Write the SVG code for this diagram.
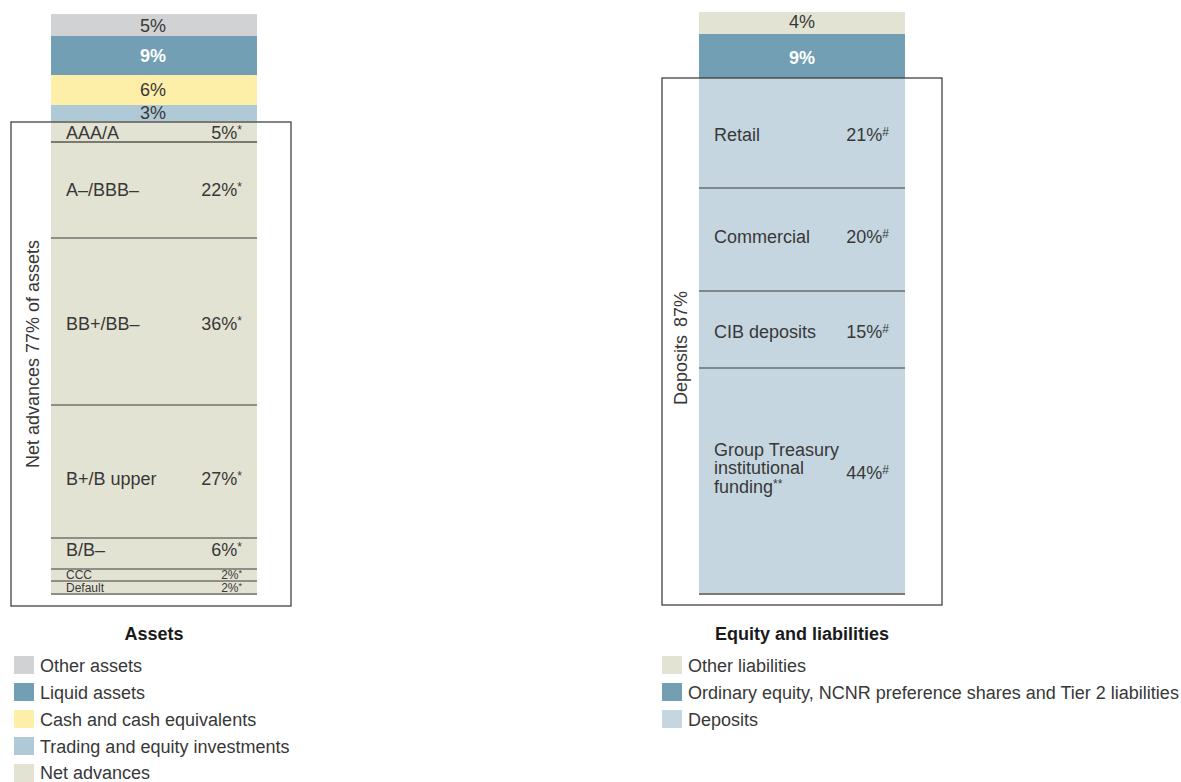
<svg xmlns="http://www.w3.org/2000/svg" width="1181" height="782" viewBox="0 0 1181 782">
<style>
text{font-family:"Liberation Sans",Arial,sans-serif;fill:#383838;font-size:18px}
.c{text-anchor:middle}
.r{text-anchor:end}
.w{fill:#ffffff;font-weight:bold}
.b{font-weight:bold;fill:#1a1a1a}
.s{font-size:12px}
.sep{stroke:#3a3a3a;stroke-width:1}
.sep2{stroke:#7a7a70;stroke-width:2}
.frame{fill:none;stroke:#333;stroke-width:1.2}
.sup{font-size:12px}
</style>
<rect width="1181" height="782" fill="#fff"/>
<g id="assets-bar">
<rect x="51" y="14" width="206" height="22" fill="#d1d2d4"/>
<rect x="51" y="36" width="206" height="39" fill="#729fb4"/>
<rect x="51" y="75" width="206" height="30" fill="#fdeea8"/>
<rect x="51" y="105" width="206" height="16" fill="#b0c9d6"/>
<rect x="51" y="121" width="206" height="474" fill="#e3e3d3"/>
<text class="c" x="153" y="32">5%</text>
<text class="c w" x="153" y="62">9%</text>
<text class="c" x="153" y="96">6%</text>
<text class="c" x="153" y="119">3%</text>
<line class="sep2" x1="51" y1="142" x2="257" y2="142"/>
<line class="sep" x1="51" y1="238" x2="257" y2="238"/>
<line class="sep" x1="51" y1="405" x2="257" y2="405"/>
<line class="sep" x1="51" y1="538" x2="257" y2="538"/>
<line class="sep" x1="51" y1="569" x2="257" y2="569"/>
<line class="sep" x1="51" y1="581" x2="257" y2="581"/>
<line class="sep" x1="51" y1="594" x2="257" y2="594"/>
<text x="66" y="139">AAA/A</text><text class="r" x="242" y="139">5%<tspan class="sup" dy="-5">*</tspan></text>
<text x="66" y="196">A–/BBB–</text><text class="r" x="242" y="196">22%<tspan class="sup" dy="-5">*</tspan></text>
<text x="66" y="330">BB+/BB–</text><text class="r" x="242" y="330">36%<tspan class="sup" dy="-5">*</tspan></text>
<text x="66" y="485">B+/B upper</text><text class="r" x="242" y="485">27%<tspan class="sup" dy="-5">*</tspan></text>
<text x="66" y="556">B/B–</text><text class="r" x="242" y="556">6%<tspan class="sup" dy="-5">*</tspan></text>
<text class="s" x="66" y="579">CCC</text><text class="s r" x="242" y="579">2%<tspan style="font-size:9px" dy="-3">*</tspan></text>
<text class="s" x="66" y="592">Default</text><text class="s r" x="242" y="592">2%<tspan style="font-size:9px" dy="-3">*</tspan></text>
<rect class="frame" x="11" y="122" width="280" height="484"/>
<text class="c" transform="translate(39,354) rotate(-90)">Net advances 77% of assets</text>
</g>
<g id="liabilities-bar">
<rect x="699" y="12" width="206" height="22" fill="#e3e3d3"/>
<rect x="699" y="34" width="206" height="44" fill="#729fb4"/>
<rect x="699" y="78" width="206" height="516" fill="#c5d6e0"/>
<text class="c" x="802" y="28">4%</text>
<text class="c w" x="802" y="64">9%</text>
<line class="sep" x1="699" y1="188" x2="905" y2="188"/>
<line class="sep" x1="699" y1="291" x2="905" y2="291"/>
<line class="sep" x1="699" y1="368" x2="905" y2="368"/>
<line class="sep2" x1="699" y1="594" x2="905" y2="594"/>
<text x="714" y="141">Retail</text><text x="889" y="141" class="r">21%<tspan class="sup" dy="-5">#</tspan></text>
<text x="714" y="243">Commercial</text><text x="889" y="243" class="r">20%<tspan class="sup" dy="-5">#</tspan></text>
<text x="714" y="338">CIB deposits</text><text x="889" y="338" class="r">15%<tspan class="sup" dy="-5">#</tspan></text>
<text x="714" y="456">Group Treasury</text>
<text x="714" y="474">institutional</text>
<text x="714" y="493">funding<tspan class="sup" dy="-5">**</tspan></text>
<text x="889" y="479" class="r">44%<tspan class="sup" dy="-5">#</tspan></text>
<rect class="frame" x="662" y="78" width="280" height="527"/>
<text transform="translate(687,405) rotate(-90)">Deposits<tspan dx="8">87%</tspan></text>
</g>
<g id="legend-assets">
<text class="c b" x="154" y="640">Assets</text>
<rect x="14" y="656" width="20" height="18" fill="#d1d2d4"/><text x="40" y="672">Other assets</text>
<rect x="14" y="683" width="20" height="18" fill="#729fb4"/><text x="40" y="699">Liquid assets</text>
<rect x="14" y="710" width="20" height="18" fill="#fdeea8"/><text x="40" y="726">Cash and cash equivalents</text>
<rect x="14" y="737" width="20" height="18" fill="#b0c9d6"/><text x="40" y="753">Trading and equity investments</text>
<rect x="14" y="764" width="20" height="18" fill="#e3e3d3"/><text x="40" y="779">Net advances</text>
</g>
<g id="legend-liabilities">
<text class="c b" x="802" y="640">Equity and liabilities</text>
<rect x="662" y="656" width="20" height="18" fill="#e3e3d3"/><text x="688" y="672">Other liabilities</text>
<rect x="662" y="683" width="20" height="18" fill="#729fb4"/><text x="688" y="699">Ordinary equity, NCNR preference shares and Tier 2 liabilities</text>
<rect x="662" y="710" width="20" height="18" fill="#c5d6e0"/><text x="688" y="726">Deposits</text>
</g>
<g id="connectors"></g>
</svg>
